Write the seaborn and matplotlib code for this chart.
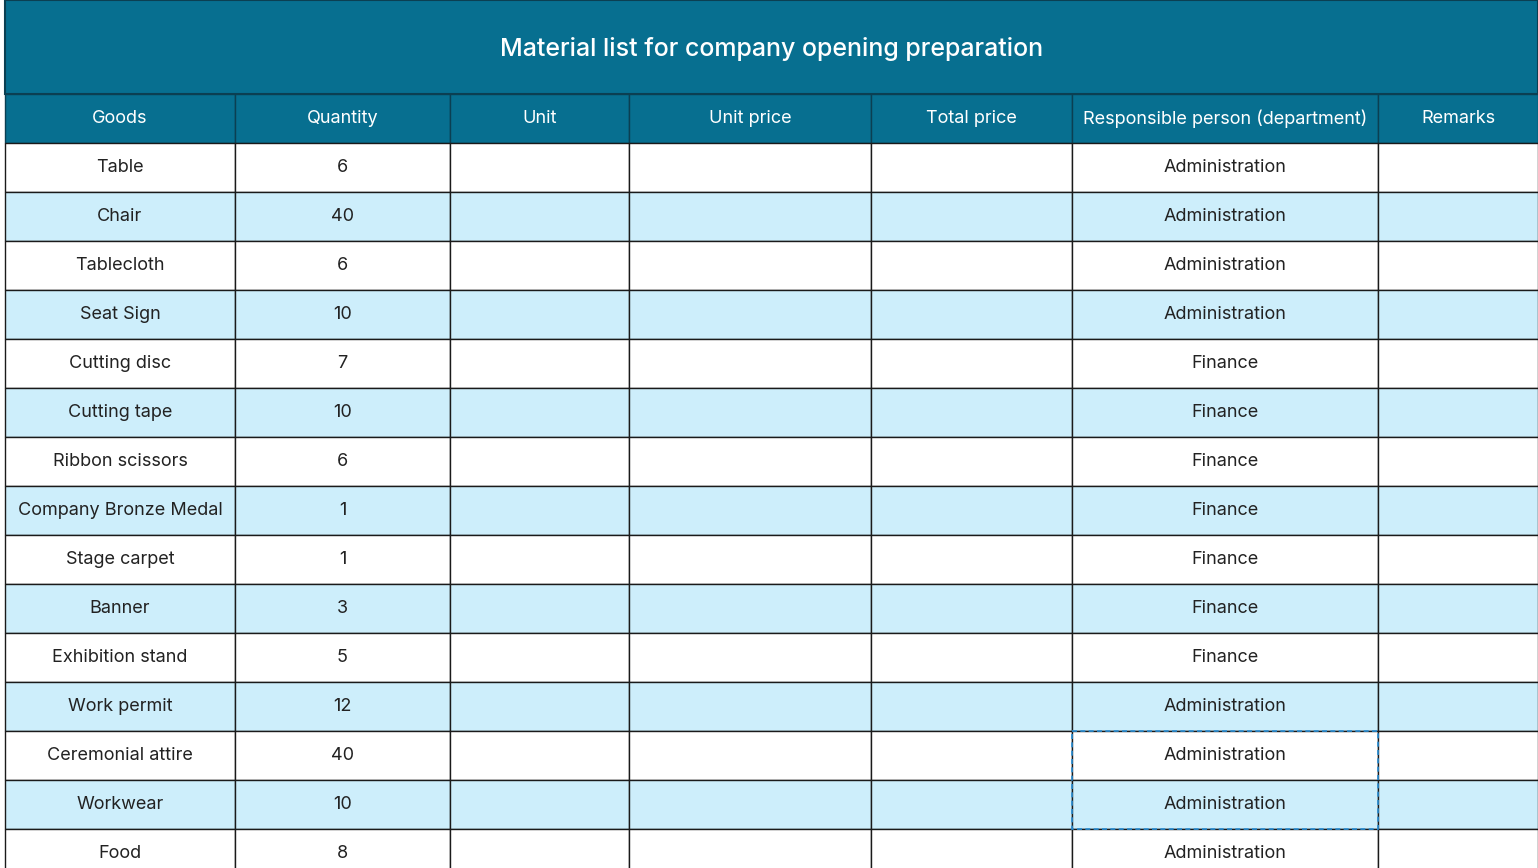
import matplotlib
matplotlib.use("Agg")
import matplotlib.pyplot as plt
import seaborn as sns
from matplotlib.patches import Rectangle

sns.set_theme(style="white")
plt.rcParams['font.family'] = ['Inter', 'DejaVu Sans']

title = "Material list for company opening preparation"
headers = ["Goods", "Quantity", "Unit", "Unit price", "Total price",
           "Responsible person (department)", "Remarks"]
goods = ["Table", "Chair", "Tablecloth", "Seat Sign", "Cutting disc", "Cutting tape",
         "Ribbon scissors", "Company Bronze Medal", "Stage carpet", "Banner",
         "Exhibition stand", "Work permit", "Ceremonial attire", "Workwear", "Food"]
quantity = [6, 40, 6, 10, 7, 10, 6, 1, 1, 3, 5, 12, 40, 10, 8]
department = ["Administration"] * 4 + ["Finance"] * 7 + ["Administration"] * 4

# column edges and row geometry in pixels
col_edges = [5, 235, 450, 629, 871, 1072, 1378, 1538]
title_h = 94
head_h = 49
row_h = 49
dark = "#076f90"
light = "#cdeefb"

fig = plt.figure(figsize=(15.38, 8.68), dpi=100)
ax = fig.add_axes([0, 0, 1, 1])
ax.set_xlim(0, 1538)
ax.set_ylim(868, 0)
ax.axis("off")

ax.add_patch(Rectangle((col_edges[0], 0), col_edges[-1] - col_edges[0], title_h,
                       facecolor=dark, edgecolor="#0b3f52", lw=1.5))
ax.text((col_edges[0] + col_edges[-1]) / 2, title_h / 2 + 2, title, color="white",
        fontsize=18, fontweight="medium", ha="center", va="center")

y0 = title_h
for i, h in enumerate(headers):
    x0, x1 = col_edges[i], col_edges[i + 1]
    ax.add_patch(Rectangle((x0, y0), x1 - x0, head_h, facecolor=dark,
                           edgecolor="#0b3f52", lw=1))
    ax.text((x0 + x1) / 2, y0 + head_h / 2, h, color="white", fontsize=13,
            ha="center", va="center")

for r, (g, q, d) in enumerate(zip(goods, quantity, department)):
    y = title_h + head_h + r * row_h
    fc = light if r % 2 == 1 else "white"
    vals = [g, str(q), "", "", "", d, ""]
    for i, v in enumerate(vals):
        x0, x1 = col_edges[i], col_edges[i + 1]
        ax.add_patch(Rectangle((x0, y), x1 - x0, row_h, facecolor=fc,
                               edgecolor="#1a1a1a", lw=1))
        if v:
            ax.text((x0 + x1) / 2, y + row_h / 2, v, color="#222222", fontsize=13,
                    ha="center", va="center")

# dashed selection around two department cells
sel_top = title_h + head_h + 12 * row_h
ax.add_patch(Rectangle((col_edges[5], sel_top), col_edges[6] - col_edges[5], 2 * row_h,
                       facecolor="none", edgecolor="#2a8fd6", lw=1.2, ls=(0, (3, 2))))

fig.savefig("out.png", dpi=100)
